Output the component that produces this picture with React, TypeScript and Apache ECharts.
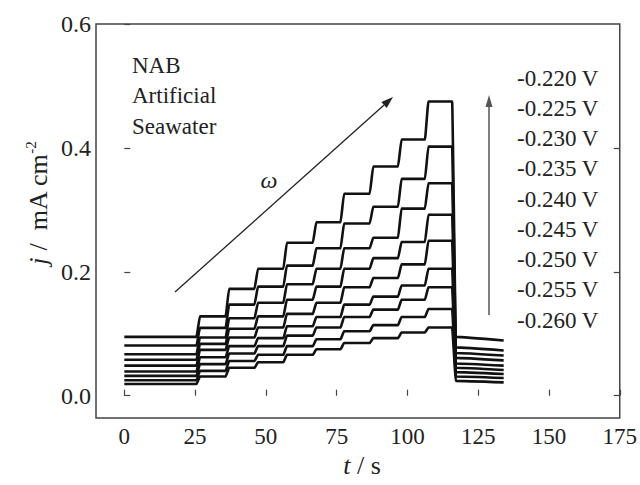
import React, { useEffect, useRef } from "react";
import * as echarts from "echarts";

// ---- data ----
const stepTimes = [25.5, 35.8, 46.0, 56.2, 66.6, 76.4, 86.7, 96.7, 106.2];
const tStartVal = 0;
const dropTime = 115.8;
const endTime = 134;

const potentials = ["-0.220 V", "-0.225 V", "-0.230 V", "-0.235 V", "-0.240 V", "-0.245 V", "-0.250 V", "-0.255 V", "-0.260 V"];

// current density plateau levels (mA cm^-2), one per rotation-rate step
const j220 = [0.095, 0.128, 0.1725, 0.205, 0.247, 0.28, 0.326, 0.37, 0.4135, 0.475];
const j225 = [0.081, 0.1095, 0.147, 0.176, 0.21, 0.238, 0.278, 0.305, 0.35, 0.402];
const j230 = [0.067, 0.094, 0.125, 0.15, 0.18, 0.205, 0.238, 0.255, 0.302, 0.343];
const j235 = [0.058, 0.0836, 0.108, 0.128, 0.155, 0.176, 0.205, 0.222, 0.248, 0.292];
const j240 = [0.0485, 0.074, 0.094, 0.11, 0.132, 0.15, 0.175, 0.19, 0.212, 0.25];
const j245 = [0.039, 0.062, 0.08, 0.093, 0.112, 0.127, 0.147, 0.16, 0.178, 0.205];
const j250 = [0.032, 0.051, 0.068, 0.08, 0.097, 0.11, 0.127, 0.139, 0.155, 0.175];
const j255 = [0.025, 0.04, 0.056, 0.066, 0.08, 0.091, 0.104, 0.114, 0.127, 0.14];
const j260 = [0.019, 0.031, 0.045, 0.054, 0.066, 0.075, 0.085, 0.093, 0.102, 0.11];
const levelSets = [j220, j225, j230, j235, j240, j245, j250, j255, j260];

// after the rotation stops
const tailStart = [0.095, 0.078, 0.069, 0.061, 0.052, 0.045, 0.038, 0.031, 0.024];
const tailEnd = [0.089, 0.073, 0.065, 0.057, 0.0485, 0.0415, 0.035, 0.0286, 0.0215];

const xTicks = [0, 25, 50, 75, 100, 125, 150, 175];
const yTicks = [0.0, 0.2, 0.4, 0.6];

const FONT = "'Liberation Serif', 'Times New Roman', serif";

function buildCurve(levels: number[], i: number): number[][] {
  const pts: number[][] = [[tStartVal, levels[0]]];
  stepTimes.forEach((t, k) => {
    pts.push([t, levels[k]]);
    pts.push([t + 1.2, levels[k + 1]]);
  });
  pts.push([dropTime, levels[levels.length - 1]]);
  pts.push([dropTime + 1.3, tailStart[i]]);
  pts.push([endTime, tailEnd[i]]);
  return pts;
}

export default function App() {
  const ref = useRef<HTMLDivElement>(null);
  useEffect(() => {
    if (!ref.current) return;
    const chart = echarts.init(ref.current, null, { renderer: "svg" });

    const series = levelSets.map((lv, i) => ({
      type: "line",
      name: potentials[i],
      data: buildCurve(lv, i),
      showSymbol: false,
      symbol: "none",
      smooth: 0.12,
      smoothMonotone: "x",
      lineStyle: { color: "#111", width: 2.6 },
      xAxisIndex: 0,
      yAxisIndex: 0,
    }));

    const labelY0 = 78;
    const labelDy = 30.25;
    const potentialTexts = potentials.map((p, i) => ({
      type: "text",
      x: 517,
      y: labelY0 + i * labelDy,
      style: { text: p, font: `23px ${FONT}`, fill: "#222", align: "left", verticalAlign: "middle" },
    }));

    // diagonal arrow geometry
    const ax0 = 175, ay0 = 292, ax1 = 393, ay1 = 97;
    const dx = ax1 - ax0, dy = ay1 - ay0;
    const len = Math.sqrt(dx * dx + dy * dy);
    const ux = dx / len, uy = dy / len;
    const hl = 12, hw = 4;
    const bx = ax1 - ux * hl, by = ay1 - uy * hl;
    const px = -uy, py = ux;

    const option: any = {
      animation: false,
      grid: { left: 96, right: 19, top: 24, bottom: 67, show: true, borderColor: "#444", borderWidth: 1.5, backgroundColor: "transparent" },
      xAxis: [
        {
          type: "value",
          min: -10,
          max: 175,
          axisLine: { show: false },
          splitLine: { show: false },
          axisTick: { show: true, inside: true, length: 6, customValues: xTicks, lineStyle: { color: "#444", width: 1.2 } },
          axisLabel: { customValues: xTicks, margin: 7, fontFamily: FONT, fontSize: 23, color: "#222" },
        },
      ],
      yAxis: [
        {
          type: "value",
          min: -0.036,
          max: 0.6,
          axisLine: { show: false },
          splitLine: { show: false },
          axisTick: { show: true, inside: true, length: 6, customValues: yTicks, lineStyle: { color: "#444", width: 1.2 } },
          axisLabel: { customValues: yTicks, margin: 5, fontFamily: FONT, fontSize: 24, color: "#222", formatter: (v: number) => v.toFixed(1) },
        },
        {
          type: "value",
          position: "right",
          min: -0.036,
          max: 0.6,
          axisLine: { show: false },
          splitLine: { show: false },
          axisTick: { show: true, inside: true, length: 6, customValues: [0, 0.2, 0.4], lineStyle: { color: "#444", width: 1.2 } },
          axisLabel: { show: false },
        },
      ],
      series,
      graphic: [
        { type: "text", x: 132, y: 65, style: { text: "NAB", font: `23px ${FONT}`, fill: "#222", verticalAlign: "middle" } },
        { type: "text", x: 132, y: 95.5, style: { text: "Artificial", font: `23px ${FONT}`, fill: "#222", verticalAlign: "middle" } },
        { type: "text", x: 132, y: 126, style: { text: "Seawater", font: `23px ${FONT}`, fill: "#222", verticalAlign: "middle" } },
        { type: "text", x: 269, y: 180, style: { text: "ω", font: `italic 24px ${FONT}`, fill: "#222", align: "center", verticalAlign: "middle" } },
        ...potentialTexts,
        { type: "line", shape: { x1: ax0, y1: ay0, x2: bx, y2: by }, style: { stroke: "#222", lineWidth: 1.3 } },
        {
          type: "polygon",
          shape: { points: [[ax1, ay1], [bx + px * hw, by + py * hw], [bx - px * hw, by - py * hw]] },
          style: { fill: "#222" },
        },
        { type: "line", shape: { x1: 489, y1: 315, x2: 489, y2: 106 }, style: { stroke: "#555", lineWidth: 1.5 } },
        { type: "polygon", shape: { points: [[489, 95], [485.5, 107], [492.5, 107]] }, style: { fill: "#555" } },
        {
          type: "text",
          x: 38,
          y: 203,
          rotation: Math.PI / 2,
          style: {
            text: "{i|j} /  mA cm{s|-2}",
            font: `26px ${FONT}`,
            fill: "#222",
            align: "center",
            verticalAlign: "middle",
            rich: {
              i: { fontFamily: FONT, fontSize: 26, fontStyle: "italic", fill: "#222", lineHeight: 30 },
              s: { fontFamily: FONT, fontSize: 15, fill: "#222", verticalAlign: "top", lineHeight: 30 },
            },
          },
        },
        {
          type: "text",
          x: 362,
          y: 465,
          style: {
            text: "{i|t} / s",
            font: `26px ${FONT}`,
            fill: "#222",
            align: "center",
            verticalAlign: "middle",
            rich: { i: { fontFamily: FONT, fontSize: 26, fontStyle: "italic", fill: "#222" } },
          },
        },
      ],
    };
    chart.setOption(option);
    return () => chart.dispose();
  }, []);
  return <div ref={ref} style={{ position: "fixed", left: 0, top: 0, width: 640, height: 485, background: "#fff" }} />;
}
